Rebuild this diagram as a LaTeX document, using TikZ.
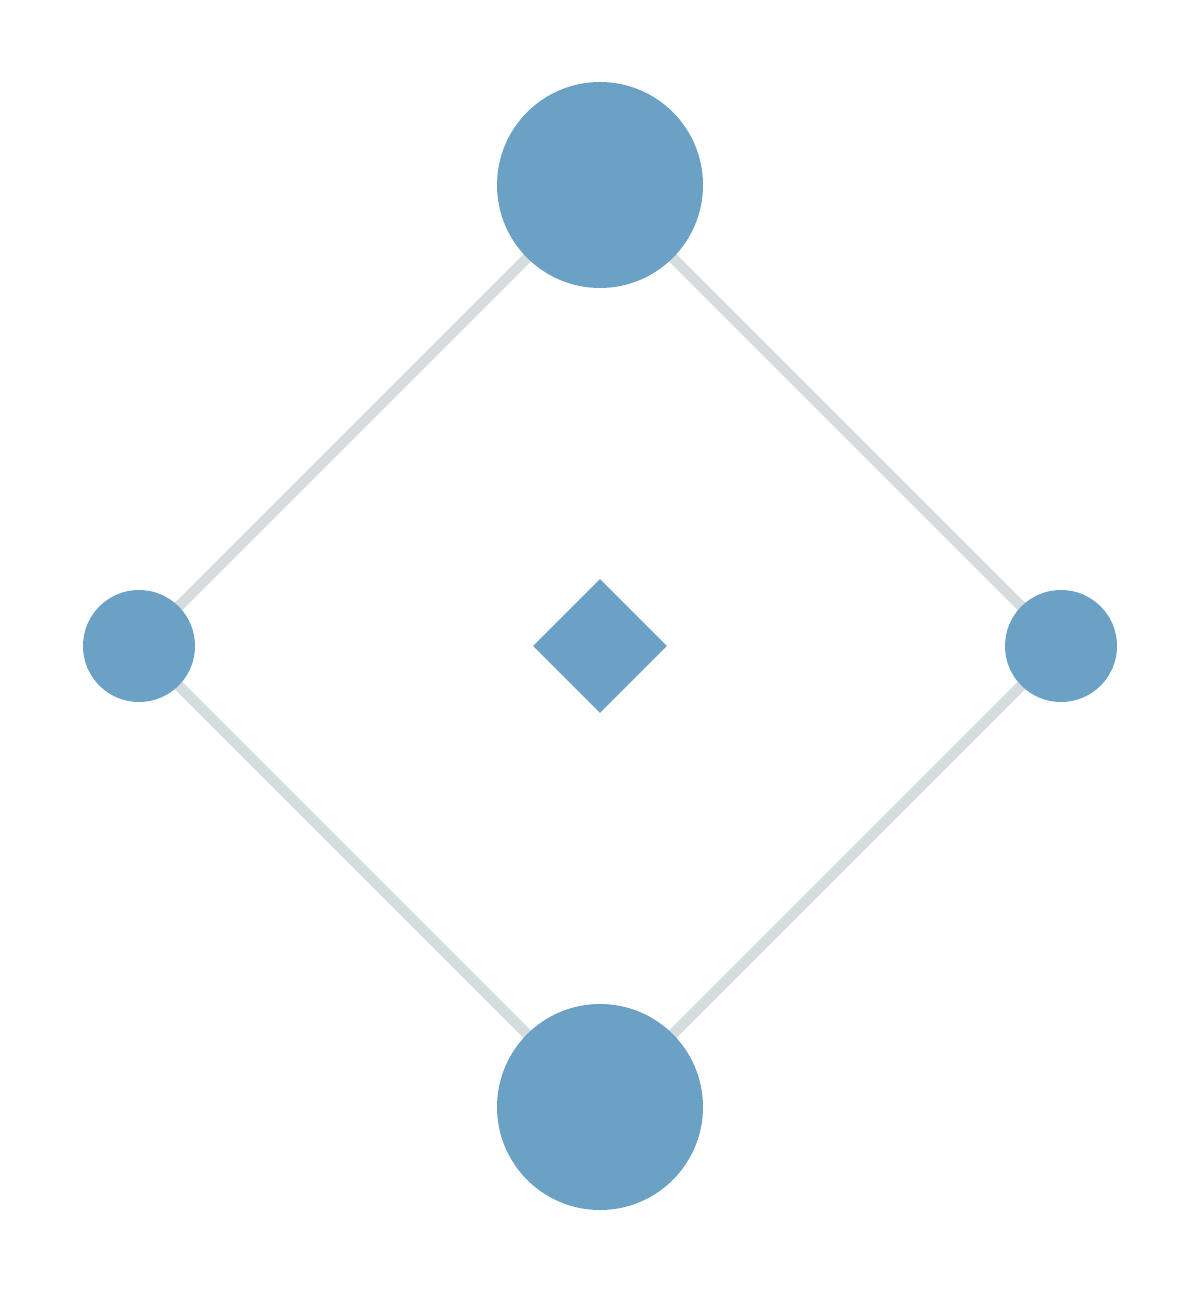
\documentclass[tikz,border=0pt]{standalone}
\usetikzlibrary{shapes.geometric,backgrounds}

\definecolor{dotblue}{HTML}{6BA1C4}
\definecolor{linkgray}{HTML}{D5DCDD}

\begin{document}
\begin{tikzpicture}[x=1pt,y=-1pt,
    big/.style={circle,fill=dotblue,minimum size=206pt,inner sep=0pt},
    small/.style={circle,fill=dotblue,minimum size=112pt,inner sep=0pt},
    link/.style={draw=linkgray,line width=10.5pt}]
    \useasboundingbox (0,0) rectangle (1200,1292);
    \node[big] (top) at (600,185) {};
    \node[big] (bottom) at (600,1107) {};
    \node[small] (left) at (139,646) {};
    \node[small] (right) at (1061,646) {};
    \node[diamond,aspect=1,fill=dotblue,minimum width=134pt,minimum height=134pt,inner sep=0pt] (mid) at (600,646) {};
    \begin{scope}[on background layer]
      \draw[link]
        (top.center) -- (left.center) -- (bottom.center) -- (right.center) -- cycle;
    \end{scope}
  \end{tikzpicture}
\end{document}
